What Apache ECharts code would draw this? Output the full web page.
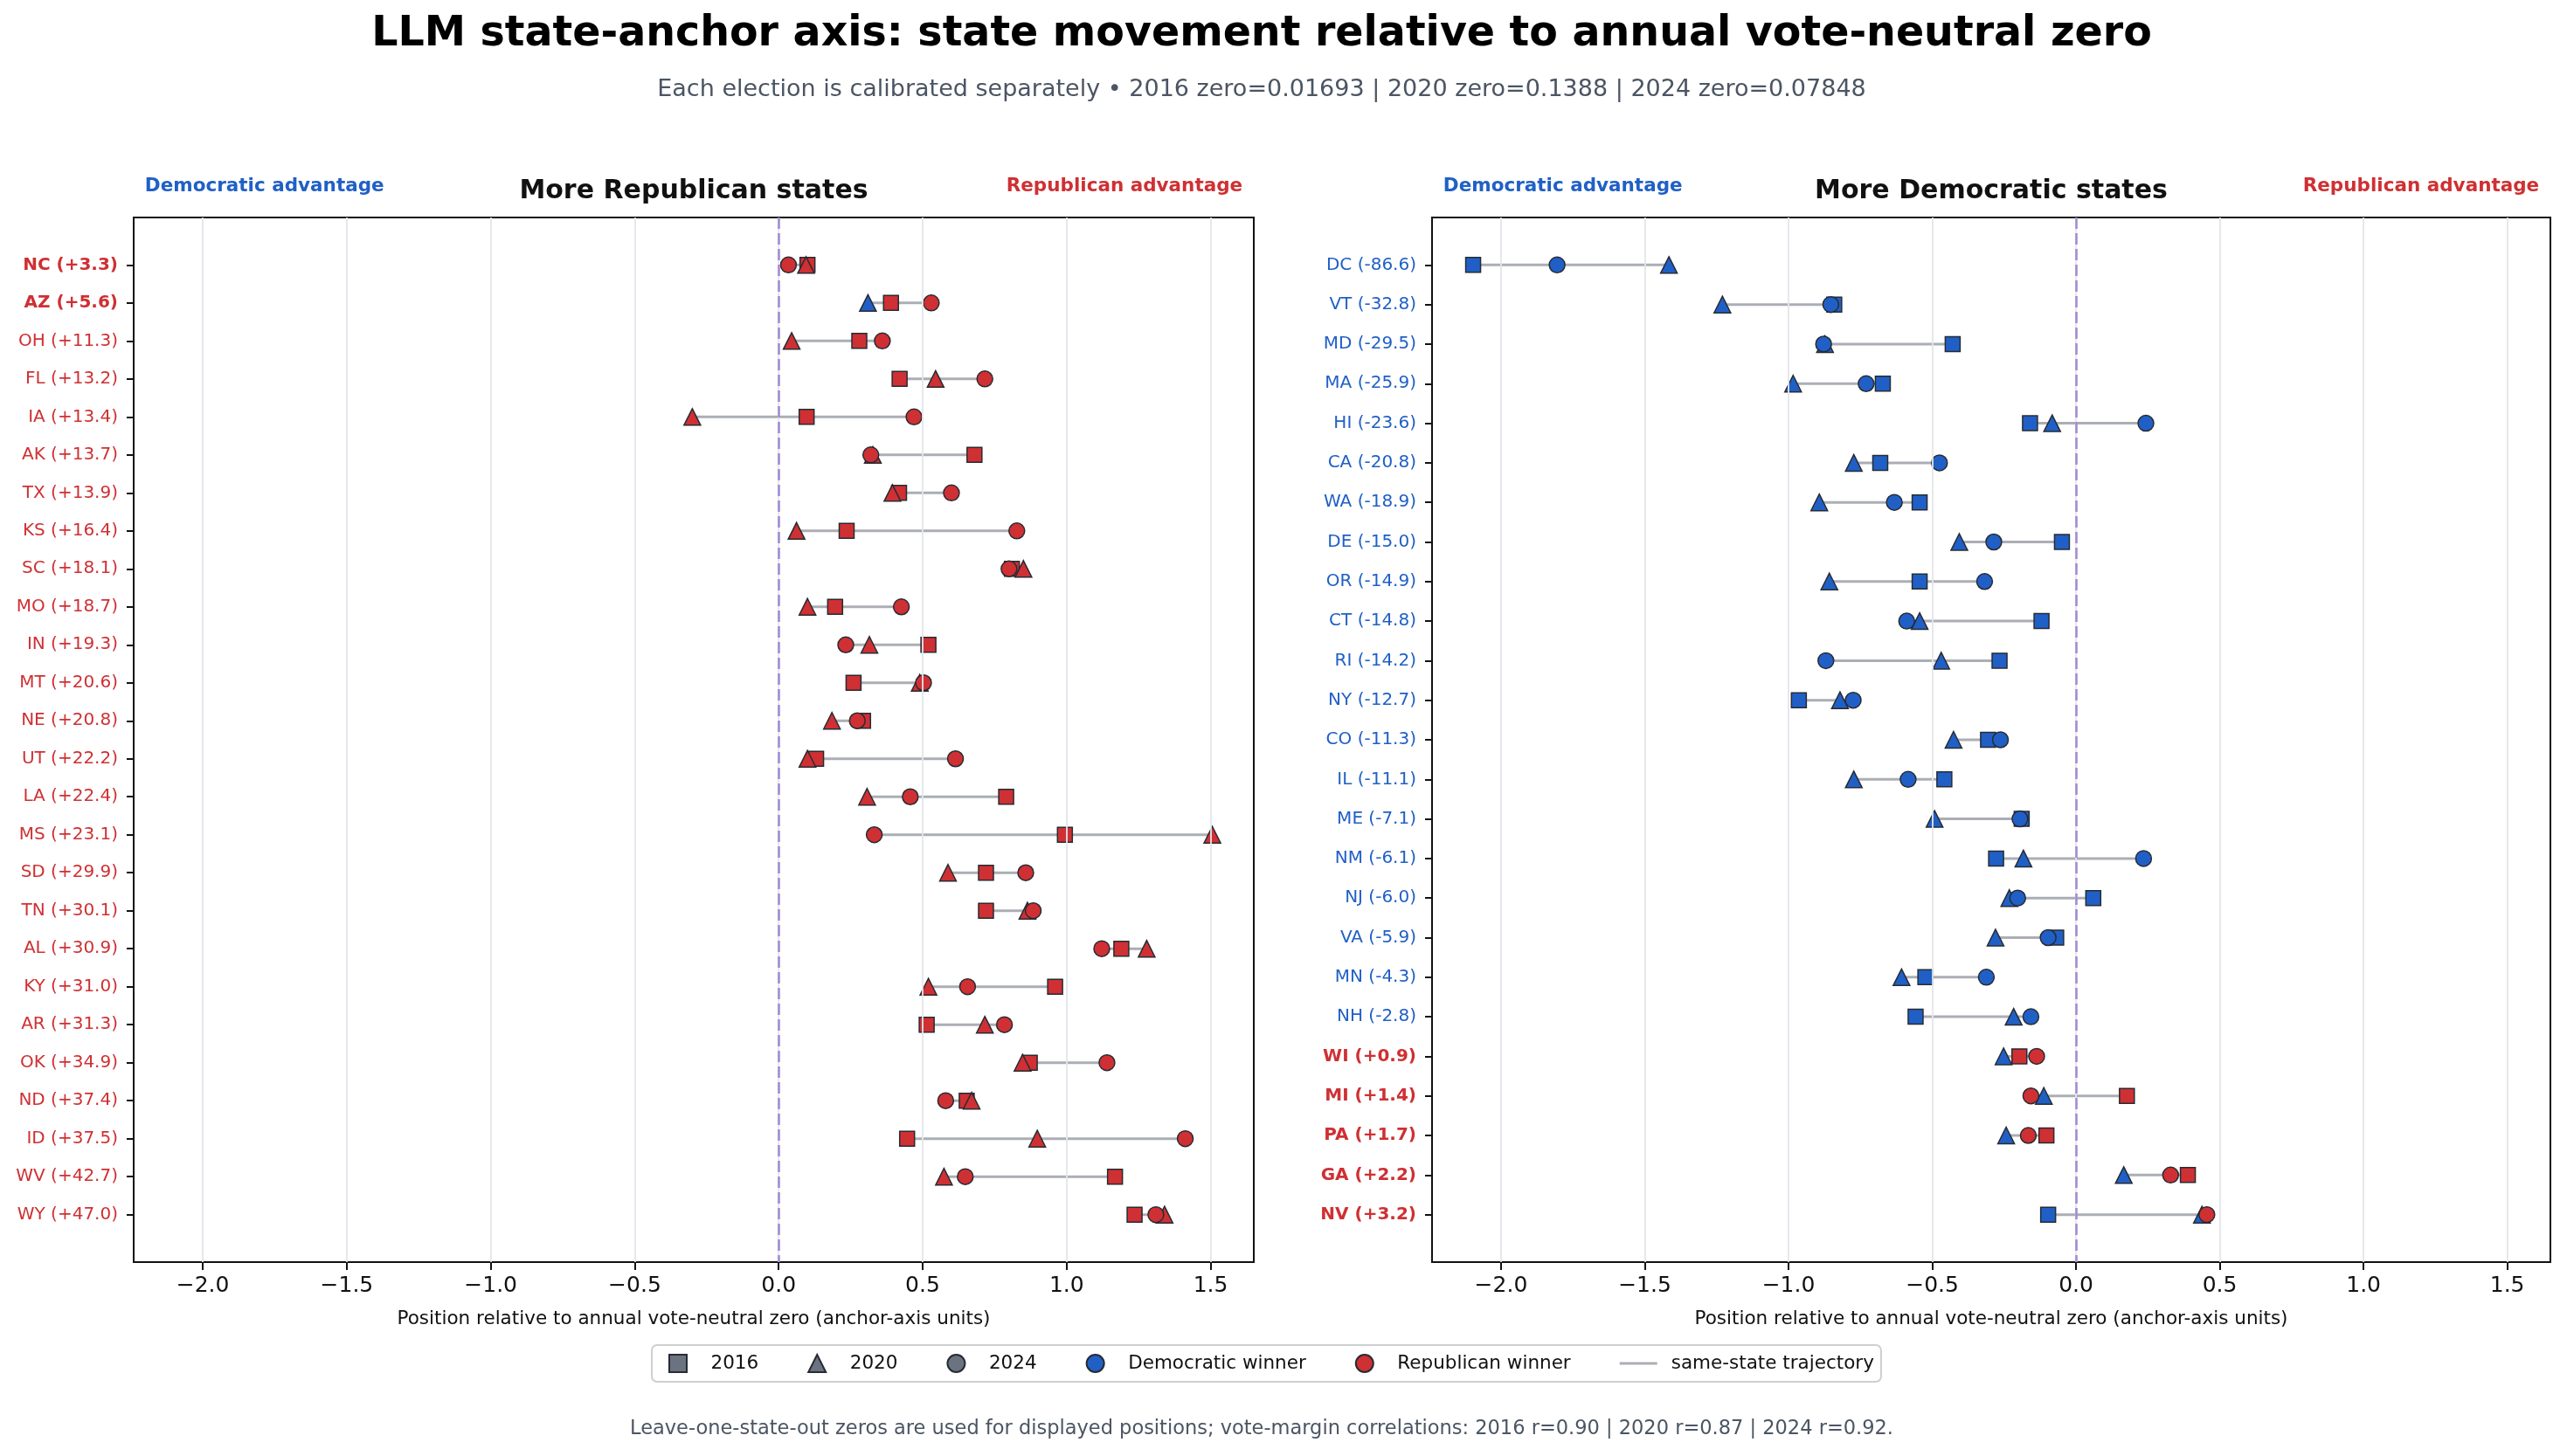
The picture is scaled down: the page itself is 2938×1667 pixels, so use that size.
<!DOCTYPE html>
<html>
<head>
    <meta charset="utf-8">
    <title>LLM state-anchor axis</title>
    <script type="text/javascript" src="https://cdn.jsdelivr.net/npm/echarts@6/dist/echarts.min.js"></script>
    <style>html, body { margin: 0; padding: 0; background: #fff; }</style>
</head>
<body>
    <div id="main" style="width:2938px; height:1667px;"></div>
    <script type="text/javascript">

    // more Republican states (left panel), positions per election
    var repStates  = ['NC', 'AZ', 'OH', 'FL', 'IA', 'AK', 'TX', 'KS', 'SC', 'MO', 'IN', 'MT', 'NE',
                      'UT', 'LA', 'MS', 'SD', 'TN', 'AL', 'KY', 'AR', 'OK', 'ND', 'ID', 'WV', 'WY'];
    var repMargins = [3.3, 5.6, 11.3, 13.2, 13.4, 13.7, 13.9, 16.4, 18.1, 18.7, 19.3, 20.6, 20.8,
                      22.2, 22.4, 23.1, 29.9, 30.1, 30.9, 31.0, 31.3, 34.9, 37.4, 37.5, 42.7, 47.0];
    var rep2016 = [0.10, 0.39, 0.28, 0.42, 0.097, 0.68, 0.418, 0.236, 0.81, 0.196, 0.52, 0.26, 0.293,
                   0.13, 0.79, 0.994, 0.72, 0.72, 1.19, 0.96, 0.514, 0.872, 0.653, 0.446, 1.168, 1.236];
    var rep2020 = [0.095, 0.31, 0.045, 0.545, -0.30, 0.327, 0.395, 0.062, 0.85, 0.10, 0.315, 0.49, 0.185,
                   0.10, 0.307, 1.506, 0.588, 0.864, 1.278, 0.52, 0.716, 0.847, 0.67, 0.898, 0.574, 1.34];
    var rep2024 = [0.034, 0.53, 0.36, 0.716, 0.47, 0.32, 0.60, 0.827, 0.80, 0.426, 0.233, 0.503, 0.273,
                   0.614, 0.457, 0.332, 0.858, 0.884, 1.122, 0.656, 0.784, 1.14, 0.58, 1.412, 0.648, 1.31];
    // winner per election: 2016, 2020, 2024
    var repWinners = ['RRR', 'RDR', 'RRR', 'RRR', 'RRR', 'RRR', 'RRR', 'RRR', 'RRR', 'RRR', 'RRR', 'RRR', 'RRR',
                      'RRR', 'RRR', 'RRR', 'RRR', 'RRR', 'RRR', 'RRR', 'RRR', 'RRR', 'RRR', 'RRR', 'RRR', 'RRR'];

    // more Democratic states (right panel)
    var demStates  = ['DC', 'VT', 'MD', 'MA', 'HI', 'CA', 'WA', 'DE', 'OR', 'CT', 'RI', 'NY', 'CO',
                      'IL', 'ME', 'NM', 'NJ', 'VA', 'MN', 'NH', 'WI', 'MI', 'PA', 'GA', 'NV'];
    var demMargins = [-86.6, -32.8, -29.5, -25.9, -23.6, -20.8, -18.9, -15.0, -14.9, -14.8, -14.2, -12.7, -11.3,
                      -11.1, -7.1, -6.1, -6.0, -5.9, -4.3, -2.8, 0.9, 1.4, 1.7, 2.2, 3.2];
    var dem2016 = [-2.097, -0.841, -0.429, -0.672, -0.16, -0.681, -0.544, -0.049, -0.544, -0.12, -0.266, -0.964, -0.306,
                   -0.458, -0.189, -0.278, 0.06, -0.069, -0.524, -0.558, -0.197, 0.177, -0.103, 0.389, -0.097];
    var dem2020 = [-1.416, -1.23, -0.873, -0.984, -0.083, -0.773, -0.893, -0.406, -0.858, -0.544, -0.469, -0.821, -0.426,
                   -0.773, -0.492, -0.183, -0.232, -0.28, -0.607, -0.217, -0.252, -0.112, -0.243, 0.166, 0.438];
    var dem2024 = [-1.805, -0.853, -0.878, -0.73, 0.243, -0.475, -0.632, -0.286, -0.318, -0.589, -0.87, -0.775, -0.263,
                   -0.584, -0.195, 0.235, -0.203, -0.097, -0.312, -0.157, -0.137, -0.157, -0.166, 0.329, 0.455];
    var demWinners = ['DDD', 'DDD', 'DDD', 'DDD', 'DDD', 'DDD', 'DDD', 'DDD', 'DDD', 'DDD', 'DDD', 'DDD', 'DDD',
                      'DDD', 'DDD', 'DDD', 'DDD', 'DDD', 'DDD', 'DDD', 'RDR', 'RDR', 'RDR', 'RDR', 'DDR'];

    var battleground = ['NC', 'AZ', 'WI', 'MI', 'PA', 'GA', 'NV'];
    var xTicks = [-2.0, -1.5, -1.0, -0.5, 0.0, 0.5, 1.0, 1.5];
    var years = ['2016', '2020', '2024'];

    var FONT = '"DejaVu Sans", "Liberation Sans", sans-serif';
    var BLUE = '#2060c6';
    var RED = '#cf3033';
    var EDGE = '#272b33';
    var GREY = '#6b7280';
    var TRAJ = '#abaeb5';

    var panels = [
        {title: 'More Republican states', states: repStates, margins: repMargins,
         pos: [rep2016, rep2020, rep2024], win: repWinners, left: 153, width: 1282, pad: 1.25},
        {title: 'More Democratic states', states: demStates, margins: demMargins,
         pos: [dem2016, dem2020, dem2024], win: demWinners, left: 1639, width: 1280, pad: 1.2}
    ];
    var gridTop = 249, gridHeight = 1196;
    var symbols = ['rect', 'triangle', 'circle'];
    var symbolSizes = [17, 19, 18];

    function stateLabel(p, i) {
        var m = p.margins[i];
        return p.states[i] + ' (' + (m > 0 ? '+' : '') + m.toFixed(1) + ')';
    }
    function fmtTick(v) {
        return (v < 0 ? '\u2212' : '') + Math.abs(v).toFixed(1);
    }

    var grids = [], xAxes = [], yAxes = [], series = [], graphics = [];

    panels.forEach(function (p, k) {
        var n = p.states.length;
        var idx = p.states.map(function (s, i) { return i; });

        grids.push({left: p.left, top: gridTop, width: p.width, height: gridHeight,
                    show: true, borderColor: '#111', borderWidth: 2, backgroundColor: 'transparent'});

        xAxes.push({
            type: 'value', gridIndex: k, min: -2.24, max: 1.65,
            axisLine: {show: false, onZero: false},
            splitLine: {show: false},
            axisTick: {show: true, customValues: xTicks, length: 9, lineStyle: {color: '#111', width: 2}},
            axisLabel: {customValues: xTicks, formatter: fmtTick, color: '#111',
                        fontFamily: FONT, fontSize: 25, margin: 15},
            name: 'Position relative to annual vote-neutral zero (anchor-axis units)',
            nameLocation: 'middle', nameGap: 54,
            nameTextStyle: {fontFamily: FONT, fontSize: 21.5, color: '#111'}
        });

        yAxes.push({
            type: 'value', gridIndex: k, inverse: true, min: -p.pad, max: n - 1 + p.pad,
            axisLine: {show: false, onZero: false},
            splitLine: {show: false},
            axisTick: {show: true, customValues: idx, length: 8, lineStyle: {color: '#111', width: 2}},
            axisLabel: {
                customValues: idx, margin: 18,
                formatter: function (v) {
                    var i = Math.round(v);
                    var key = (p.margins[i] > 0 ? 'r' : 'b') + (battleground.indexOf(p.states[i]) >= 0 ? 'B' : '');
                    return '{' + key + '|' + stateLabel(p, i) + '}';
                },
                rich: {
                    r:  {color: RED, fontFamily: FONT, fontSize: 20},
                    rB: {color: RED, fontFamily: FONT, fontSize: 20, fontWeight: 'bold'},
                    b:  {color: BLUE, fontFamily: FONT, fontSize: 20},
                    bB: {color: BLUE, fontFamily: FONT, fontSize: 20, fontWeight: 'bold'}
                }
            }
        });

        // vertical grid lines and the vote-neutral zero
        series.push({
            type: 'line', xAxisIndex: k, yAxisIndex: k, data: [], silent: true, z: 1,
            markLine: {
                silent: true, symbol: ['none', 'none'], label: {show: false}, animation: false,
                lineStyle: {color: '#e4e6eb', width: 1.8, type: 'solid'},
                data: xTicks.map(function (t) { return {xAxis: t}; })
            }
        });
        series.push({
            type: 'line', xAxisIndex: k, yAxisIndex: k, data: [], silent: true, z: 2,
            markLine: {
                silent: true, symbol: ['none', 'none'], label: {show: false}, animation: false,
                lineStyle: {color: '#a48ccf', width: 2.6, type: [13, 5]},
                data: [{xAxis: 0}]
            }
        });

        // same-state trajectories
        idx.forEach(function (i) {
            var xs = [p.pos[0][i], p.pos[1][i], p.pos[2][i]].sort(function (a, b) { return a - b; });
            series.push({
                name: 'same-state trajectory', type: 'line', xAxisIndex: k, yAxisIndex: k,
                symbol: 'none', silent: true, z: 3,
                lineStyle: {color: TRAJ, width: 3},
                itemStyle: {color: TRAJ},
                data: xs.map(function (x) { return [x, i]; })
            });
        });

        // election markers, coloured by winner
        years.forEach(function (yr, j) {
            series.push({
                name: yr, type: 'scatter', xAxisIndex: k, yAxisIndex: k, z: 4,
                symbol: symbols[j], symbolSize: symbolSizes[j],
                itemStyle: {color: GREY, borderColor: EDGE, borderWidth: 1.5, opacity: 1},
                data: idx.map(function (i) {
                    return {value: [p.pos[j][i], i],
                            itemStyle: {color: p.win[i].charAt(j) === 'D' ? BLUE : RED}};
                })
            });
        });

        var cx = p.left + p.width / 2;
        graphics.push({type: 'text', x: cx, y: 219, silent: true,
            style: {text: p.title, fill: '#111', font: 'bold 30px ' + FONT, textAlign: 'center', verticalAlign: 'middle'}});
        graphics.push({type: 'text', x: p.left + 0.01 * p.width, y: 213, silent: true,
            style: {text: 'Democratic advantage', fill: BLUE, font: 'bold 21.5px ' + FONT, textAlign: 'left', verticalAlign: 'middle'}});
        graphics.push({type: 'text', x: p.left + 0.99 * p.width, y: 213, silent: true,
            style: {text: 'Republican advantage', fill: RED, font: 'bold 21.5px ' + FONT, textAlign: 'right', verticalAlign: 'middle'}});
    });

    // legend-only entries for winner colours
    series.push({name: 'Democratic winner', type: 'scatter', xAxisIndex: 0, yAxisIndex: 0, data: [],
                 symbol: 'circle', itemStyle: {color: BLUE, borderColor: EDGE, borderWidth: 1.5, opacity: 1}});
    series.push({name: 'Republican winner', type: 'scatter', xAxisIndex: 0, yAxisIndex: 0, data: [],
                 symbol: 'circle', itemStyle: {color: RED, borderColor: EDGE, borderWidth: 1.5, opacity: 1}});

    graphics.push({type: 'text', x: 1444, y: 40, silent: true,
        style: {text: 'LLM state-anchor axis: state movement relative to annual vote-neutral zero',
                fill: '#000', font: 'bold 47.5px ' + FONT, textAlign: 'center', verticalAlign: 'middle'}});
    graphics.push({type: 'text', x: 1444, y: 103, silent: true,
        style: {text: 'Each election is calibrated separately \u2022 2016 zero=0.01693 | 2020 zero=0.1388 | 2024 zero=0.07848',
                fill: '#4b5563', font: '27px ' + FONT, textAlign: 'center', verticalAlign: 'middle'}});
    graphics.push({type: 'text', x: 1444, y: 1636, silent: true,
        style: {text: 'Leave-one-state-out zeros are used for displayed positions; vote-margin correlations: 2016 r=0.90 | 2020 r=0.87 | 2024 r=0.92.',
                fill: '#4b5563', font: '22.5px ' + FONT, textAlign: 'center', verticalAlign: 'middle'}});

    var myChart = echarts.init(document.getElementById('main'));
    myChart.setOption({
        animation: false,
        backgroundColor: '#ffffff',
        grid: grids,
        xAxis: xAxes,
        yAxis: yAxes,
        legend: {
            left: 746, top: 1540,
            padding: [10, 8, 10, 19], itemGap: 56, itemWidth: 43, itemHeight: 20,
            borderColor: '#cfcfcf', borderWidth: 2, borderRadius: 6, backgroundColor: '#fff',
            selectedMode: false,
            formatter: function (name) { return '{t|' + name + '}'; },
            textStyle: {
                fontFamily: FONT, fontSize: 21.5, color: '#111',
                rich: {t: {fontFamily: FONT, fontSize: 21.5, color: '#111', padding: [0, 0, 0, 11]}}
            },
            data: [
                {name: '2016', icon: 'path://M0,0L10,0L10,10L0,10Z'},
                {name: '2020', icon: 'path://M5,0L10,10L0,10Z'},
                {name: '2024', icon: 'circle'},
                {name: 'Democratic winner', icon: 'circle'},
                {name: 'Republican winner', icon: 'circle'},
                {name: 'same-state trajectory', icon: 'path://M0,0L43,0L43,3L0,3Z',
                 itemStyle: {color: TRAJ}}
            ]
        },
        graphic: graphics,
        series: series
    });
    </script>
</body>
</html>
